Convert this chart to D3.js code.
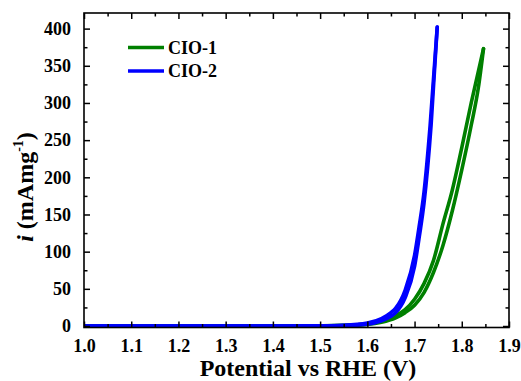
<!DOCTYPE html>
<html>
<head>
<meta charset="utf-8">
<script src="https://cdn.jsdelivr.net/npm/d3@7"></script>
<style>
  html, body { margin: 0; padding: 0; background: #fff; }
  svg { display: block; }
  svg text { font-family: "Liberation Serif", "LiberationSerif", "Tinos", "DejaVu Serif", serif !important; font-weight: bold; fill: #000; }
</style>
</head>
<body>
<svg id="chart" width="521" height="381"></svg>
<script>
// ---- data ----
const seriesNames = ["CIO-1", "CIO-2"];
const seriesColors = ["#008000", "#0000ff"];

// CIO-1 anodic (left) and return (right) branches
const cio1BranchAV = [1.00, 1.20, 1.40, 1.50, 1.55, 1.60, 1.63, 1.66, 1.68, 1.70, 1.72, 1.74, 1.76, 1.78, 1.80, 1.82, 1.846];
const cio1BranchAI = [0, 0, 0, 0.3, 0.8, 3, 7, 14, 22, 36, 57, 88, 137, 183, 240, 300, 373];
const cio1BranchBV = [1.00, 1.20, 1.40, 1.50, 1.55, 1.60, 1.63, 1.66, 1.68, 1.70, 1.72, 1.74, 1.76, 1.78, 1.80, 1.82, 1.835, 1.846];
const cio1BranchBI = [0, 0, 0, 0.2, 0.5, 2, 5, 11, 18, 28, 45, 72, 108, 155, 210, 270, 320, 373];

// CIO-2 branches
const cio2BranchAV = [1.00, 1.20, 1.40, 1.50, 1.55, 1.60, 1.63, 1.65, 1.66, 1.68, 1.70, 1.71, 1.72, 1.733, 1.748];
const cio2BranchAI = [0, 0, 0, 0.3, 1, 4, 10, 18, 24, 48, 95, 135, 180, 270, 402];
const cio2BranchBV = [1.00, 1.20, 1.40, 1.50, 1.55, 1.60, 1.63, 1.65, 1.66, 1.68, 1.70, 1.71, 1.72, 1.735, 1.748];
const cio2BranchBI = [0, 0, 0, 0.2, 0.6, 2.5, 7, 13, 18, 38, 80, 120, 165, 270, 402];

const xTickValues = [1.0, 1.1, 1.2, 1.3, 1.4, 1.5, 1.6, 1.7, 1.8, 1.9];
const xMinorValues = [1.05, 1.15, 1.25, 1.35, 1.45, 1.55, 1.65, 1.75, 1.85];
const yTickValues = [0, 50, 100, 150, 200, 250, 300, 350, 400];
const yMinorValues = [25, 75, 125, 175, 225, 275, 325, 375];

// ---- layout ----
const svg = d3.select("#chart");
const L = 84, R = 509, T = 13, B = 327.5;
const FONT = "'Liberation Serif', 'Tinos', 'DejaVu Serif', serif";

const x = d3.scaleLinear().domain([1.0, 1.9]).range([L, R]);
const y = d3.scaleLinear().domain([-2, 421]).range([B, T]);

const zip = (vs, is) => vs.map((v, i) => [v, is[i]]);
const seriesBranches = [
  [zip(cio1BranchAV, cio1BranchAI), zip(cio1BranchBV, cio1BranchBI)],
  [zip(cio2BranchAV, cio2BranchAI), zip(cio2BranchBV, cio2BranchBI)]
];

svg.append("clipPath").attr("id", "clip")
  .append("rect").attr("x", L).attr("y", T - 5).attr("width", R - L).attr("height", B - T + 5);

const line = d3.line().x(d => x(d[0])).y(d => y(d[1])).curve(d3.curveMonotoneX);

const plot = svg.append("g").attr("clip-path", "url(#clip)");
seriesBranches.forEach((branches, si) => {
  branches.forEach(br => {
    plot.append("path")
      .datum(br)
      .attr("d", line)
      .attr("fill", "none")
      .attr("stroke", seriesColors[si])
      .attr("stroke-width", 3.6)
      .attr("stroke-linecap", "round")
      .attr("stroke-linejoin", "round");
  });
});

// ---- axes ----
function styleAxis(g) {
  g.attr("font-family", FONT);
  g.select(".domain").remove();
  g.selectAll(".tick line").attr("stroke", "#000").attr("stroke-width", 1.5);
}
const majorLen = 6, minorLen = 3.5;

// bottom
svg.append("g").attr("transform", `translate(0,${B})`)
  .call(d3.axisBottom(x).tickValues(xTickValues).tickSize(-majorLen).tickPadding(12).tickFormat(d3.format(".1f")))
  .call(styleAxis)
  .call(g => g.selectAll(".tick text").attr("font-size", 18));
svg.append("g").attr("transform", `translate(0,${B})`)
  .call(d3.axisBottom(x).tickValues(xMinorValues).tickSize(-minorLen).tickFormat(""))
  .call(styleAxis);
// top
svg.append("g").attr("transform", `translate(0,${T})`)
  .call(d3.axisTop(x).tickValues(xTickValues).tickSize(-majorLen).tickFormat(""))
  .call(styleAxis);
svg.append("g").attr("transform", `translate(0,${T})`)
  .call(d3.axisTop(x).tickValues(xMinorValues).tickSize(-minorLen).tickFormat(""))
  .call(styleAxis);
// left
svg.append("g").attr("transform", `translate(${L},0)`)
  .call(d3.axisLeft(y).tickValues(yTickValues).tickSize(-majorLen).tickPadding(13).tickFormat(d3.format("d")))
  .call(styleAxis)
  .call(g => g.selectAll(".tick text").attr("font-size", 18));
svg.append("g").attr("transform", `translate(${L},0)`)
  .call(d3.axisLeft(y).tickValues(yMinorValues).tickSize(-minorLen).tickFormat(""))
  .call(styleAxis);
// right
svg.append("g").attr("transform", `translate(${R},0)`)
  .call(d3.axisRight(y).tickValues(yTickValues).tickSize(-majorLen).tickFormat(""))
  .call(styleAxis);
svg.append("g").attr("transform", `translate(${R},0)`)
  .call(d3.axisRight(y).tickValues(yMinorValues).tickSize(-minorLen).tickFormat(""))
  .call(styleAxis);

// frame
svg.append("rect").attr("x", L).attr("y", T).attr("width", R - L).attr("height", B - T)
  .attr("fill", "none").attr("stroke", "#000").attr("stroke-width", 1.6);

// ---- titles ----
svg.append("text").attr("x", 308).attr("y", 376).attr("text-anchor", "middle")
  .attr("font-family", FONT).attr("font-size", 24).text("Potential vs RHE (V)");

const yt = svg.append("text").attr("transform", "translate(33,187) rotate(-90)")
  .attr("text-anchor", "middle").attr("font-family", FONT).attr("font-size", 24);
yt.append("tspan").attr("font-style", "italic").text("i");
yt.append("tspan").text(" (mAmg");
yt.append("tspan").attr("font-size", 14).attr("dy", -10).text("-1");
yt.append("tspan").attr("dy", 10).text(")");

// ---- legend ----
const legendY = [47.5, 71];
seriesNames.forEach((name, i) => {
  svg.append("line").attr("x1", 128).attr("x2", 164).attr("y1", legendY[i]).attr("y2", legendY[i])
    .attr("stroke", seriesColors[i]).attr("stroke-width", 3.5);
  svg.append("text").attr("x", 168).attr("y", legendY[i] + 6).attr("font-family", FONT)
    .attr("font-size", 18).text(name);
});
</script>
</body>
</html>
